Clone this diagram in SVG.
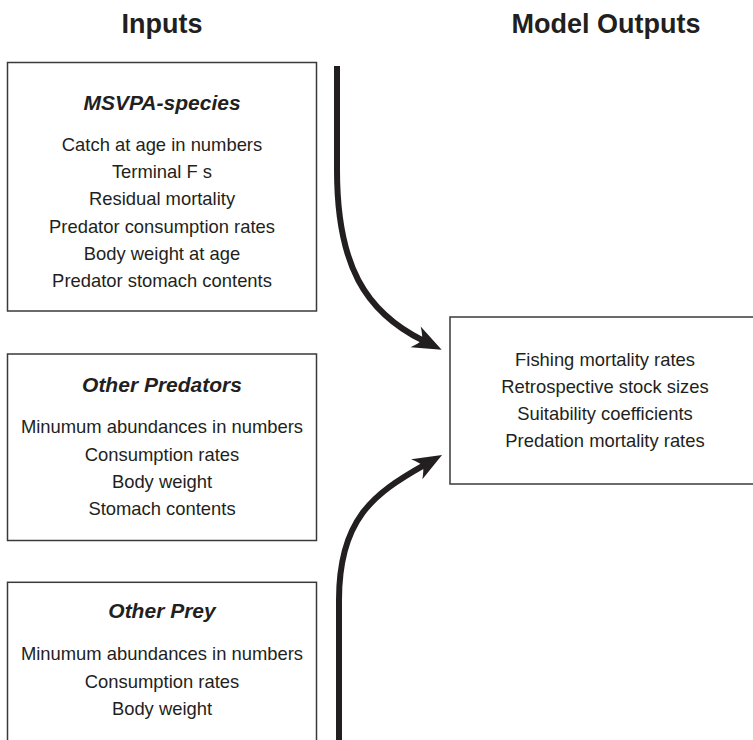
<svg xmlns="http://www.w3.org/2000/svg" width="753" height="740" viewBox="0 0 753 740">
  <style>
    .box { fill: #ffffff; stroke: #3a3a3a; stroke-width: 1.5; }
    .head { font-family: "Liberation Sans", Arial, sans-serif; font-weight: bold; font-size: 27px; fill: #231f20; text-anchor: middle; }
    .title { font-family: "Liberation Sans", Arial, sans-serif; font-weight: bold; font-style: italic; font-size: 21px; fill: #231f20; text-anchor: middle; }
    .item { font-family: "Liberation Sans", Arial, sans-serif; font-size: 18.4px; fill: #231f20; text-anchor: middle; }
    .arrow { fill: none; stroke: #231f20; stroke-width: 6; marker-end: url(#barb); }
  </style>
  <defs>
    <marker id="barb" markerUnits="userSpaceOnUse" markerWidth="40" markerHeight="30" refX="0" refY="0" orient="auto" overflow="visible">
      <path d="M20,0 L-9,-11.5 Q-3,-4 -2,0 Q-3,4 -9,11.5 Z" fill="#231f20"/>
    </marker>
  </defs>
  <rect width="753" height="740" fill="#ffffff"/>

  <text class="head" x="162" y="33">Inputs</text>
  <text class="head" x="606" y="33">Model Outputs</text>

  <g id="msvpa-species">
    <rect class="box" x="7.5" y="62.5" width="309" height="248.5"/>
    <text class="title" x="162" y="110">MSVPA-species</text>
    <text class="item" x="162" y="151">Catch at age in numbers</text>
    <text class="item" x="162" y="178.2">Terminal F s</text>
    <text class="item" x="162" y="205.4">Residual mortality</text>
    <text class="item" x="162" y="232.6">Predator consumption rates</text>
    <text class="item" x="162" y="259.8">Body weight at age</text>
    <text class="item" x="162" y="287">Predator stomach contents</text>
  </g>

  <g id="other-predators">
    <rect class="box" x="7.5" y="354" width="309" height="186.5"/>
    <text class="title" x="162" y="392.3">Other Predators</text>
    <text class="item" x="162" y="433.3">Minumum abundances in numbers</text>
    <text class="item" x="162" y="460.5">Consumption rates</text>
    <text class="item" x="162" y="487.7">Body weight</text>
    <text class="item" x="162" y="514.9">Stomach contents</text>
  </g>

  <g id="other-prey">
    <rect class="box" x="7.5" y="582.3" width="309" height="180"/>
    <text class="title" x="162" y="617.7">Other Prey</text>
    <text class="item" x="162" y="660">Minumum abundances in numbers</text>
    <text class="item" x="162" y="687.5">Consumption rates</text>
    <text class="item" x="162" y="715">Body weight</text>
  </g>

  <g id="model-outputs">
    <rect class="box" x="450" y="317" width="312" height="167"/>
    <text class="item" x="605" y="365.5">Fishing mortality rates</text>
    <text class="item" x="605" y="392.7">Retrospective stock sizes</text>
    <text class="item" x="605" y="420">Suitability coefficients</text>
    <text class="item" x="605" y="447.3">Predation mortality rates</text>
  </g>

  <g id="connectors">
    <path class="arrow" d="M337,66 L337,170 C337,265 365,312 423.7,340.9"/>
    <path class="arrow" d="M339,740 L339,600 C339,520 372.3,494.2 424.6,464.8"/>
  </g>
</svg>
